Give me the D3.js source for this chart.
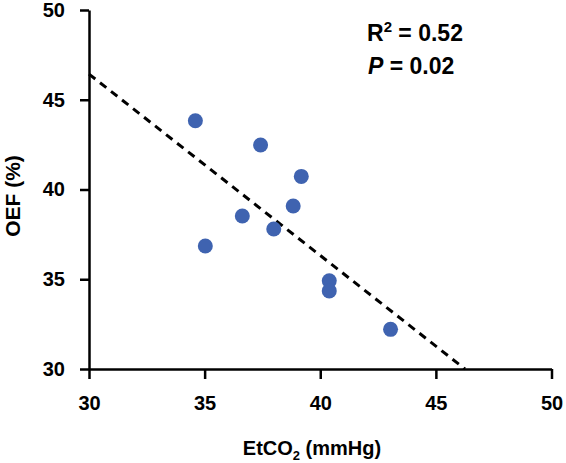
<!DOCTYPE html>
<html>
<head>
<meta charset="utf-8">
<script src="https://cdn.jsdelivr.net/npm/d3@7"></script>
<style>
  html, body { margin: 0; padding: 0; background: #fff; }
  text { font-family: "Liberation Sans", Arial, Helvetica, sans-serif; font-weight: bold; fill: #000; }
</style>
</head>
<body>
<svg id="chart" width="566" height="463"></svg>
<script>
// Data (EtCO2 in mmHg, OEF in %)
const etco2 = [34.6, 37.42, 39.18, 38.83, 36.63, 37.99, 35.03, 40.39, 40.39, 43.04];
const oef   = [43.83, 42.48, 40.73, 39.08, 38.52, 37.80, 36.85, 34.92, 34.35, 32.21];
// Regression trend line endpoints [x, y]
const trendX = [30, 46.26];
const trendY = [46.43, 30];
const xTicks = [30, 35, 40, 45, 50];
const yTicks = [30, 35, 40, 45, 50];
const rSquared = "0.52";
const pValue = "0.02";

const svg = d3.select("#chart");
const x = d3.scaleLinear().domain([30, 50]).range([89, 551.5]);
const y = d3.scaleLinear().domain([30, 50]).range([369, 10]);

// Axes
const xAxis = d3.axisBottom(x).tickValues(xTicks).tickSize(10).tickPadding(10).tickSizeOuter(0);
const yAxis = d3.axisLeft(y).tickValues(yTicks).tickSize(9).tickPadding(15).tickSizeOuter(0);

const gx = svg.append("g").attr("transform", `translate(0,${y(30)})`).call(xAxis);
const gy = svg.append("g").attr("transform", `translate(${x(30)},0)`).call(yAxis);
[gx, gy].forEach(g => {
  g.select(".domain").attr("stroke", "#000").attr("stroke-width", 2.5);
  g.selectAll(".tick line").attr("stroke", "#000").attr("stroke-width", 2.5);
  g.selectAll(".tick text").style("font-size", "20px").style("font-family", "Liberation Sans, Arial, sans-serif").style("font-weight", "bold").attr("fill", "#000");
});
gx.selectAll(".tick text").attr("dy", "1.05em");

// Trend line
const trend = trendX.map((v, i) => [v, trendY[i]]);
svg.append("path")
  .datum(trend)
  .attr("d", d3.line().x(d => x(d[0])).y(d => y(d[1])))
  .attr("stroke", "#000")
  .attr("stroke-width", 3)
  .attr("stroke-dasharray", "8,6")
  .attr("fill", "none");

// Points
const pts = etco2.map((v, i) => ({ x: v, y: oef[i] }));
svg.append("g").selectAll("circle").data(pts).join("circle")
  .attr("cx", d => x(d.x))
  .attr("cy", d => y(d.y))
  .attr("r", 7.5)
  .attr("fill", "#3f63b0");

// Axis titles
const xt = svg.append("text").attr("x", 312).attr("y", 455).attr("text-anchor", "middle").style("font-size", "20px");
xt.append("tspan").text("EtCO");
xt.append("tspan").text("2").style("font-size", "13px").attr("dy", 5);
xt.append("tspan").text(" (mmHg)").attr("dy", -5);

svg.append("text")
  .attr("transform", "translate(20,196) rotate(-90)")
  .attr("text-anchor", "middle")
  .style("font-size", "21px")
  .text("OEF (%)");

// Annotations
const r = svg.append("text").attr("x", 367).attr("y", 41).style("font-size", "23px");
r.append("tspan").text("R");
r.append("tspan").text("2").style("font-size", "15px").attr("dy", -9);
r.append("tspan").text(" = " + rSquared).attr("dy", 9);

const p = svg.append("text").attr("x", 368).attr("y", 74).style("font-size", "23px");
p.append("tspan").text("P").style("font-style", "italic");
p.append("tspan").text(" = " + pValue);
</script>
</body>
</html>
